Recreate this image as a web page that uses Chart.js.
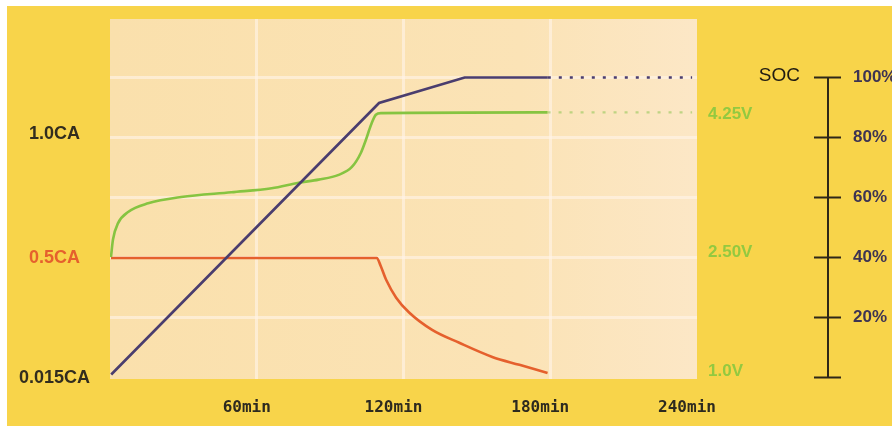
<!DOCTYPE html>
<html><head><meta charset="utf-8">
<script src="https://cdn.jsdelivr.net/npm/chart.js@4/dist/chart.umd.min.js"></script>
<style>html,body{margin:0;padding:0;background:#fff;overflow:hidden}</style>
</head><body>
<canvas id="c" width="892" height="426"></canvas>
<script>
// ---- data ----
const timeTicks = [60, 120, 180, 240];
const timeTickLabels = ['60min', '120min', '180min', '240min'];
const currentTicks = [0.015, 0.5, 1.0];
const currentTickLabels = ['0.015CA', '0.5CA', '1.0CA'];
const voltageTicks = [1.0, 2.5, 4.25];
const voltageTickLabels = ['1.0V', '2.50V', '4.25V'];
const socTicks = [0, 20, 40, 60, 80, 100];
const socTickLabels = ['', '20%', '40%', '60%', '80%', '100%'];

const socTime = [0.5, 110, 145, 179];
const socValues = [1, 91.5, 100, 100];
const socDotTime = [179, 238];
const socDotValues = [100, 100];

const voltTime = [0.4, 1.2, 3.3, 7.4, 15.6, 29.1, 49.6, 66.1, 77.1, 85.3, 93.5, 98.9, 102.6, 104.6, 106.7, 108.7, 110.8, 178.9];
const voltValues = [2.44, 2.66, 2.87, 3.01, 3.12, 3.20, 3.26, 3.31, 3.38, 3.42, 3.48, 3.58, 3.76, 3.92, 4.11, 4.24, 4.26, 4.27];
const voltDotTime = [178.9, 238];
const voltDotValues = [4.27, 4.27];

const currentTime = [0.4, 109.1, 110.6, 113.0, 117.0, 122.3, 131.7, 142.8, 156.3, 167.4, 178.9];
const currentValues = [0.5, 0.5, 0.47, 0.41, 0.34, 0.28, 0.210, 0.158, 0.101, 0.069, 0.036];

// ---- helpers ----
const pts = (xs, ys) => xs.map((x, i) => ({x: x, y: ys[i]}));
const TRANSPARENT = 'rgba(0,0,0,0)';
const GRID = 'rgba(255,244,232,0.62)';

const deco = {
  id: 'deco',
  beforeDraw(chart) {
    const {ctx, chartArea: a, width, height} = chart;
    ctx.save();
    ctx.fillStyle = '#ffffff';
    ctx.fillRect(0, 0, width, height);
    ctx.fillStyle = '#F8D44A';
    ctx.fillRect(7, 6, width - 7, height - 6);
    const g = ctx.createLinearGradient(a.left, 0, a.right, 0);
    g.addColorStop(0, '#FAE0AC');
    g.addColorStop(0.7, '#FBE3B6');
    g.addColorStop(1, '#FCE7C6');
    ctx.fillStyle = g;
    ctx.fillRect(a.left, a.top, a.right - a.left, a.bottom - a.top);
    ctx.restore();
  },
  afterDraw(chart) {
    const s = chart.scales.yS;
    const ctx = chart.ctx;
    const x = s.left + 15;
    ctx.save();
    ctx.strokeStyle = '#2e2718';
    ctx.lineWidth = 2;
    ctx.beginPath();
    ctx.moveTo(x, s.getPixelForValue(socTicks[0]));
    ctx.lineTo(x, s.getPixelForValue(socTicks[socTicks.length - 1]));
    socTicks.forEach(v => {
      const y = s.getPixelForValue(v);
      ctx.moveTo(x - 14, y);
      ctx.lineTo(x + 13, y);
    });
    ctx.stroke();
    ctx.fillStyle = '#1f1a12';
    ctx.font = '19px "Liberation Sans", Arial, sans-serif';
    ctx.textAlign = 'right';
    ctx.textBaseline = 'middle';
    ctx.fillText('SOC', s.left - 13, s.getPixelForValue(100) - 2);
    ctx.restore();
  }
};

new Chart(document.getElementById('c'), {
  type: 'line',
  plugins: [deco],
  data: {
    datasets: [
      {data: pts(socTime, socValues), yAxisID: 'yS', borderColor: '#4A3D6E', borderWidth: 2.6, tension: 0, pointRadius: 0},
      {data: pts(socDotTime, socDotValues), yAxisID: 'yS', borderColor: '#4A3D6E', borderWidth: 2.4, borderDash: [3, 8], tension: 0, pointRadius: 0},
      {data: pts(voltTime, voltValues), yAxisID: 'yV', borderColor: '#86C441', borderWidth: 2.6, cubicInterpolationMode: 'monotone', pointRadius: 0},
      {data: pts(voltDotTime, voltDotValues), yAxisID: 'yV', borderColor: 'rgba(150,200,90,0.6)', borderWidth: 2.4, borderDash: [3, 8], tension: 0, pointRadius: 0},
      {data: pts(currentTime, currentValues), yAxisID: 'yI', borderColor: '#E5602D', borderWidth: 2.6, cubicInterpolationMode: 'monotone', pointRadius: 0}
    ]
  },
  options: {
    responsive: false,
    animation: false,
    devicePixelRatio: 1,
    layout: {padding: {top: 19, left: 0, right: 0, bottom: 0}},
    plugins: {legend: {display: false}, tooltip: {enabled: false}},
    scales: {
      x: {
        type: 'linear', position: 'bottom', min: 0, max: 240,
        afterBuildTicks: ax => { ax.ticks = timeTicks.map(v => ({value: v})); },
        afterFit: ax => { ax.height = 47; },
        grid: {drawTicks: false, lineWidth: 3, color: c => (c.tick && c.tick.value === 240) ? TRANSPARENT : GRID},
        border: {display: false},
        ticks: {autoSkip: false, maxRotation: 0, padding: 19, labelOffset: -10, color: '#2d2a1f',
          font: {family: '"DejaVu Sans Mono", monospace', weight: 'bold', size: 16},
          callback: (v, i) => timeTickLabels[i]}
      },
      yI: {
        type: 'linear', position: 'left', min: 0.012, max: 1.464,
        afterBuildTicks: ax => { ax.ticks = currentTicks.map(v => ({value: v})); },
        afterFit: ax => { ax.width = 110; },
        grid: {drawOnChartArea: false, drawTicks: true, tickLength: 20, tickColor: TRANSPARENT},
        border: {display: false},
        ticks: {autoSkip: false, padding: 0, crossAlign: 'center',
          color: c => c.index === 1 ? '#E5602D' : '#322d1e',
          font: {family: '"Liberation Sans", Arial, sans-serif', weight: 'bold', size: 18},
          callback: (v, i) => currentTickLabels[i]}
      },
      yV: {
        type: 'linear', position: 'right', weight: 0, min: 0.9, max: 5.45,
        afterBuildTicks: ax => { ax.ticks = voltageTicks.map(v => ({value: v})); },
        afterFit: ax => { ax.width = 116; },
        grid: {drawOnChartArea: false, drawTicks: true, tickLength: 11, tickColor: TRANSPARENT},
        border: {display: false},
        ticks: {autoSkip: false, padding: 0, crossAlign: 'near', color: '#93C940',
          font: {family: '"Liberation Sans", Arial, sans-serif', weight: 'bold', size: 17},
          callback: (v, i) => voltageTickLabels[i]}
      },
      yS: {
        type: 'linear', position: 'right', weight: 1, min: -0.5, max: 119.5,
        afterBuildTicks: ax => { ax.ticks = socTicks.map(v => ({value: v})); },
        afterFit: ax => { ax.width = 79; },
        grid: {drawOnChartArea: true, drawTicks: true, tickLength: 40, tickColor: TRANSPARENT, lineWidth: 3,
          color: c => (c.tick && c.tick.value === 0) ? TRANSPARENT : GRID},
        border: {display: false},
        ticks: {autoSkip: false, padding: 0, crossAlign: 'near', color: '#3d3353',
          font: {family: '"Liberation Sans", Arial, sans-serif', weight: 'bold', size: 17},
          callback: (v, i) => socTickLabels[i]}
      }
    }
  }
});
</script>
</body></html>
